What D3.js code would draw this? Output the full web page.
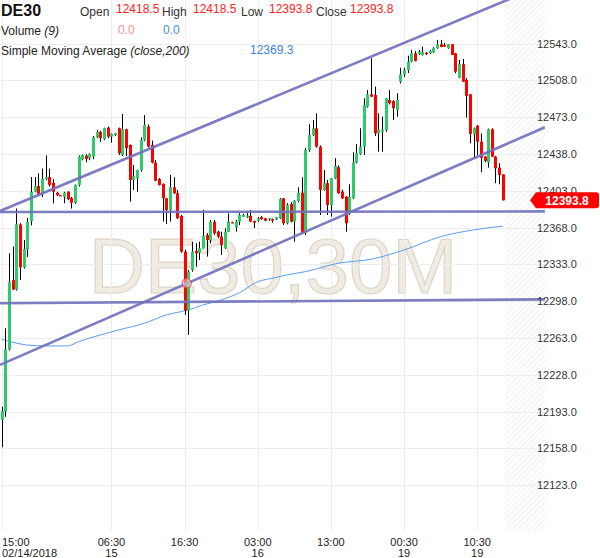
<!DOCTYPE html>
<html><head><meta charset="utf-8">
<script src="https://cdn.jsdelivr.net/npm/d3@7"></script>
<style>body{margin:0;background:#fff;} svg{display:block;font-family:Arial,"Liberation Sans",sans-serif;}</style>
</head><body><svg id="c" width="600" height="558"></svg>
<script>
// ---- data ----
const opens = [12185.0,12193.0,12252.0,12318.0,12309.0,12371.0,12330.0,12347.0,12374.0,12402.0,
12407.5,12400.0,12414.0,12416.0,12410.5,12401.0,12398.7,12397.0,12402.0,12396.0,
12391.5,12408.5,12433.0,12436.3,12434.0,12435.4,12454.0,12459.0,12452.0,12463.0,
12454.4,12456.0,12462.4,12437.0,12461.4,12446.5,12413.2,12415.0,12422.7,12451.3,
12464.0,12446.5,12429.7,12414.0,12409.4,12395.8,12384.7,12406.3,12400.6,12379.0,
12345.0,12288.9,12327.6,12345.7,12344.0,12348.3,12360.9,12356.0,12373.6,12364.0,
12359.3,12348.3,12364.0,12373.0,12368.2,12373.6,12378.3,12377.8,12379.0,12374.2,
12374.5,12377.8,12376.8,12375.8,12376.1,12375.8,12376.8,12395.8,12372.0,12390.4,
12373.6,12393.2,12401.1,12363.0,12441.7,12456.0,12462.4,12444.9,12403.7,12410.1,
12389.4,12414.8,12425.3,12402.1,12397.3,12381.5,12395.8,12429.7,12437.9,12444.9,
12482.9,12494.7,12494.1,12457.6,12459.2,12460.8,12489.3,12488.4,12479.8,12506.7,
12513.7,12517.8,12525.7,12533.7,12532.8,12532.1,12534.3,12533.7,12534.7,12538.5,
12542.3,12541.6,12538.5,12542.3,12533.7,12510.5,12523.3,12508.3,12494.7,12457.0,
12464.9,12449.6,12435.4,12429.7,12461.4,12435.4,12424.9,12418.5];
const highs = [12197.6,12272.2,12343.5,12350.0,12386.0,12372.0,12356.0,12377.0,12416.0,12416.0,
12419.5,12424.0,12436.5,12424.0,12414.0,12402.0,12399.0,12402.0,12402.5,12397.0,
12409.0,12436.5,12437.5,12437.7,12438.5,12455.0,12461.0,12460.0,12463.0,12464.0,
12457.5,12458.0,12463.0,12476.0,12462.0,12447.0,12427.5,12423.0,12453.8,12475.0,
12466.0,12450.6,12432.2,12415.0,12410.0,12396.0,12418.0,12415.8,12403.7,12380.0,
12347.0,12327.6,12354.3,12353.0,12354.5,12384.7,12362.8,12375.2,12375.2,12365.0,
12364.0,12367.3,12381.5,12373.5,12375.2,12381.5,12381.0,12383.0,12384.7,12374.5,
12378.0,12379.0,12377.0,12377.0,12376.5,12378.0,12396.0,12396.0,12391.1,12392.3,
12394.0,12406.3,12415.8,12443.7,12466.2,12470.3,12476.6,12446.0,12422.7,12413.2,
12415.0,12433.9,12427.0,12404.0,12398.0,12409.1,12439.6,12447.2,12462.4,12490.9,
12498.8,12529.0,12502.0,12476.6,12473.4,12491.0,12498.8,12489.0,12495.7,12520.0,
12520.0,12531.4,12536.9,12535.9,12536.9,12540.0,12535.0,12537.0,12539.5,12546.4,
12546.4,12543.5,12542.5,12542.5,12534.0,12527.3,12528.3,12510.2,12495.0,12463.0,
12465.5,12457.6,12436.0,12462.0,12462.4,12436.0,12429.1,12418.5];
const lows = [12159.0,12188.0,12251.0,12308.5,12308.0,12318.0,12329.0,12340.0,12370.0,12401.5,
12399.0,12397.0,12413.0,12407.0,12391.0,12398.0,12398.0,12391.0,12394.0,12386.0,
12390.5,12407.0,12432.0,12430.0,12432.0,12433.0,12453.0,12449.5,12451.0,12453.0,
12448.7,12455.0,12437.0,12436.0,12436.0,12392.6,12403.7,12402.0,12421.0,12450.0,
12444.0,12429.0,12412.0,12408.0,12373.6,12371.4,12373.6,12400.0,12376.0,12344.0,
12284.8,12265.8,12326.0,12330.8,12337.0,12348.0,12340.3,12353.0,12361.0,12358.0,
12341.9,12347.6,12363.8,12372.0,12364.0,12370.4,12378.0,12377.0,12373.3,12367.3,
12373.3,12375.5,12374.0,12374.2,12372.6,12375.0,12376.0,12370.4,12371.0,12373.0,
12354.5,12392.0,12361.9,12360.9,12440.0,12455.0,12444.0,12379.9,12403.0,12379.9,
12378.3,12414.0,12400.0,12395.0,12364.0,12380.0,12395.0,12429.0,12437.0,12437.0,
12482.0,12492.0,12455.0,12440.1,12440.1,12459.0,12485.0,12470.3,12473.4,12505.0,
12511.0,12515.0,12525.0,12526.0,12532.0,12531.5,12532.0,12533.0,12534.0,12538.0,
12539.5,12539.8,12538.0,12532.0,12514.7,12510.0,12506.5,12472.5,12448.1,12433.9,
12437.0,12420.5,12430.0,12424.9,12435.0,12410.1,12409.1,12393.8];
const closes = [12193.5,12252.2,12316.0,12309.0,12371.0,12330.0,12347.5,12373.5,12402.0,12407.5,
12400.0,12414.0,12416.0,12408.5,12402.0,12398.7,12398.5,12401.0,12395.0,12391.5,
12408.5,12435.4,12437.0,12433.2,12438.0,12453.8,12459.0,12453.0,12462.4,12454.4,
12457.0,12457.6,12438.6,12461.4,12443.4,12413.2,12417.0,12422.7,12451.3,12465.5,
12445.0,12429.7,12412.6,12408.5,12395.8,12384.7,12406.3,12400.6,12376.8,12345.0,
12288.9,12326.0,12345.0,12343.5,12348.3,12360.0,12356.2,12373.6,12362.5,12359.3,
12351.4,12364.0,12373.6,12372.6,12373.6,12379.9,12379.9,12379.3,12373.6,12372.6,
12376.8,12375.8,12374.5,12376.8,12374.5,12377.8,12395.1,12372.0,12389.4,12373.6,
12393.5,12401.1,12363.1,12441.7,12456.0,12462.4,12444.9,12403.7,12410.1,12389.4,
12414.8,12426.5,12400.6,12395.8,12372.0,12397.3,12429.7,12438.6,12444.9,12484.5,
12494.7,12492.4,12457.6,12460.8,12460.8,12490.9,12486.2,12481.4,12489.3,12513.7,
12517.8,12525.7,12533.7,12526.4,12535.2,12535.2,12532.8,12535.9,12538.5,12542.3,
12539.7,12540.0,12542.3,12532.1,12516.2,12523.3,12506.7,12493.1,12457.0,12462.4,
12449.6,12434.4,12431.3,12461.4,12435.4,12424.3,12418.0,12393.8];

// Simple moving average (close,200), read at sampled bars
const smaIdx = [0,5,11,18,21,27,32,39,45,51,55,60,65,70,74,78,83,92,101,110,120,129,137];
const smaVal = [12261.7,12257.3,12255.4,12255.4,12259.4,12265.8,12270.6,12276.9,12284.8,12289.6,12294.3,
12299.1,12306.0,12316.5,12319.7,12322.9,12326.0,12334.0,12337.8,12346.6,12359.3,12365.7,12369.3];

// drawn trend lines: start/end bar and price
const lineStartBar = [-0.46,-0.46,-0.46,-0.46];
const lineStartPrice = [12383.7,12382.8,12296.0,12237.3];
const lineEndBar = [148.5,148.5,148.5,148.5];
const lineEndPrice = [12599.3,12383.3,12299.6,12463.3];
const anchorBar = [50.6];
const anchorPrice = [12315.0];

const priceTicks = [12543,12508,12473,12438,12403,12368,12333,12298,12263,12228,12193,12158,12123];
const timeTickIdx = [0,30,50,70,90,110,130];
const timeTickTop = ["15:00","06:30","16:30","03:00","13:00","00:30","10:30"];
const timeTickBottom = ["02/14/2018","15","","16","","19","19"];

// ---- layout ----
const svg = d3.select("#c");
const plotRight = 545, plotBottom = 531;
const x = d3.scaleLinear().domain([0,137]).range([1.7,502.8]);
const y = d3.scaleLinear().domain([12123,12543]).range([485.1,43.5]);
const GREEN = "#2dcb6b", RED = "#ff0000";

const defs = svg.append("defs");
defs.append("clipPath").attr("id","plot").append("rect").attr("x",0).attr("y",0).attr("width",plotRight).attr("height",plotBottom);
const pat = defs.append("pattern").attr("id","hatch").attr("patternUnits","userSpaceOnUse")
  .attr("width",4).attr("height",4).attr("patternTransform","rotate(45)");
pat.append("line").attr("x1",0).attr("y1",0).attr("x2",0).attr("y2",4).attr("stroke","#e4e4e4").attr("stroke-width",1.2);

// watermark
svg.append("text").attr("x",273).attr("y",293).attr("text-anchor","middle")
  .attr("font-size",78).attr("fill","#f1ece3").attr("stroke","#ddd5c6").attr("stroke-width",1.2)
  .text("DE30,30M");

// hatched future region
svg.append("rect").attr("x",x(137)+2).attr("y",0).attr("width",plotRight-x(137)-2).attr("height",plotBottom)
  .attr("fill","url(#hatch)");

// grid
const grid = svg.append("g");
grid.selectAll(".hg").data(priceTicks).join("line")
  .attr("x1",0).attr("x2",plotRight).attr("y1",d=>Math.round(y(d))+0.5).attr("y2",d=>Math.round(y(d))+0.5)
  .attr("stroke","#ededed");
grid.selectAll(".vg").data(timeTickIdx).join("line")
  .attr("y1",0).attr("y2",plotBottom).attr("x1",d=>Math.round(x(d))+0.5).attr("x2",d=>Math.round(x(d))+0.5)
  .attr("stroke","#ededed");

const plot = svg.append("g").attr("clip-path","url(#plot)");

// SMA
const smaPts = smaIdx.map((d,i)=>[d,smaVal[i]]);
plot.append("path").datum(smaPts)
  .attr("d", d3.line().x(d=>x(d[0])).y(d=>y(d[1])).curve(d3.curveMonotoneX))
  .attr("fill","none").attr("stroke","#5b9bf0").attr("stroke-width",1);

// candles
const bars = opens.map((o,i)=>({i,o,h:highs[i],l:lows[i],c:closes[i]}));
const cg = plot.append("g");
cg.selectAll(".wick").data(bars).join("line")
  .attr("x1",d=>Math.round(x(d.i))+0.5).attr("x2",d=>Math.round(x(d.i))+0.5)
  .attr("y1",d=>y(d.h)).attr("y2",d=>y(d.l)).attr("stroke","#000").attr("stroke-width",1);
cg.selectAll(".body").data(bars).join("rect")
  .attr("x",d=>Math.round(x(d.i))-1).attr("width",3)
  .attr("y",d=>y(Math.max(d.o,d.c)))
  .attr("height",d=>Math.max(1.2,Math.abs(y(d.o)-y(d.c))))
  .attr("fill",d=>d.c>=d.o?GREEN:RED);

// trend lines
const lines = lineStartBar.map((b,i)=>({b0:b,p0:lineStartPrice[i],b1:lineEndBar[i],p1:lineEndPrice[i]}));
plot.selectAll(".tl").data(lines).join("line")
  .attr("x1",d=>x(d.b0)).attr("y1",d=>y(d.p0)).attr("x2",d=>x(d.b1)).attr("y2",d=>y(d.p1))
  .attr("stroke","#7272bc").attr("stroke-width",2.6).attr("stroke-opacity",0.92);
plot.selectAll(".anc").data(anchorBar).join("circle")
  .attr("cx",d=>x(d)).attr("cy",(d,i)=>y(anchorPrice[i])).attr("r",4.5)
  .attr("fill","rgba(255,255,255,0.45)").attr("stroke","#f05050").attr("stroke-width",1.2);

// y axis
const yAxis = d3.axisRight(y).tickValues(priceTicks).tickSize(0).tickPadding(0).tickFormat(d3.format(".1f"));
const ya = svg.append("g").attr("transform","translate(537,0)").call(yAxis);
ya.select(".domain").remove();
ya.selectAll("text").attr("font-size",11).attr("fill","#333").attr("font-family","Arial, 'Liberation Sans', sans-serif");

// x axis labels
const xa = svg.append("g");
xa.selectAll(".t1").data(timeTickIdx).join("text")
  .attr("x",(d,i)=>i===0?2:x(d)).attr("y",546).attr("text-anchor",(d,i)=>i===0?"start":"middle")
  .attr("font-size",11).attr("fill","#222").text((d,i)=>timeTickTop[i]);
xa.selectAll(".t2").data(timeTickIdx).join("text")
  .attr("x",(d,i)=>i===0?2:x(d)).attr("y",557).attr("text-anchor",(d,i)=>i===0?"start":"middle")
  .attr("font-size",11).attr("fill","#222").text((d,i)=>timeTickBottom[i]);

// last price label
const last = closes[closes.length-1];
const ly = y(last);
svg.append("path")
  .attr("d",`M530,${ly} L536,${ly-8} L596,${ly-8} Q599,${ly-8} 599,${ly-5} L599,${ly+5} Q599,${ly+8} 596,${ly+8} L536,${ly+8} Z`)
  .attr("fill",RED);
svg.append("text").attr("x",567).attr("y",ly+4.5).attr("text-anchor","middle")
  .attr("font-size",12).attr("font-weight","bold").attr("fill","#fff").text(d3.format(".1f")(last));

// header
const hdr = svg.append("g");
hdr.append("text").attr("x",1).attr("y",16).attr("font-size",16).attr("font-weight","bold").attr("fill","#111").text("DE30");
const lbl = [["Open",80,15.5,"#333"],[d3.format(".1f")(opens[137]),116,13,"#f22"],["High",162,15.5,"#333"],[d3.format(".1f")(highs[137]),193,13,"#f22"],
  ["Low",241,15.5,"#333"],[d3.format(".1f")(lows[137]),269,13,"#f22"],["Close",316,15.5,"#333"],[d3.format(".1f")(closes[137]),350,13,"#f22"]];
hdr.selectAll(".hl").data(lbl).join("text").attr("x",d=>d[1]).attr("y",d=>d[2]).attr("font-size",12).attr("fill",d=>d[3]).text(d=>d[0]);
const v = hdr.append("text").attr("x",1).attr("y",35).attr("font-size",12).attr("fill","#222");
v.append("tspan").text("Volume ");
v.append("tspan").attr("font-style","italic").text("(9)");
hdr.append("text").attr("x",118).attr("y",34).attr("font-size",12).attr("fill","#f59090").text("0.0");
hdr.append("text").attr("x",163).attr("y",34).attr("font-size",12).attr("fill","#4a8ae6").text("0.0");
const s = hdr.append("text").attr("x",1).attr("y",55).attr("font-size",12).attr("fill","#222");
s.append("tspan").text("Simple Moving Average ");
s.append("tspan").attr("font-style","italic").text("(close,200)");
hdr.append("text").attr("x",250).attr("y",54).attr("font-size",12).attr("fill","#3d7fe0").text(d3.format(".1f")(smaVal[smaVal.length-1]));
</script></body></html>
